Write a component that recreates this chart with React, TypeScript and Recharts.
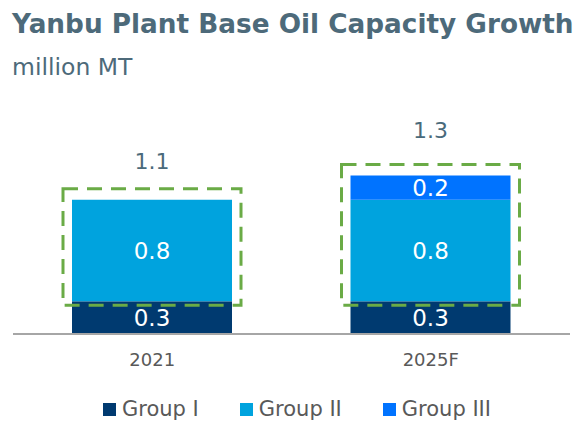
import React from 'react';
import { BarChart, Bar, XAxis, YAxis, LabelList, Legend } from 'recharts';

const categories = ['2021', '2025F'];
const groupI = [0.27, 0.27];
const groupII = [0.84, 0.84];
const groupIII = [0, 0.2];
const seriesNames = ['Group I', 'Group II', 'Group III'];
const seriesKeys = ['g1', 'g2', 'g3'];
const colors = ['#003a70', '#00a3de', '#0073ff'];

const data = categories.map((c, i) => ({
  name: c,
  g1: groupI[i],
  g2: groupII[i],
  g3: groupIII[i],
}));

const FONT = "'DejaVu Sans', Verdana, sans-serif";

const GroupIShape = (props: any) => {
  const { x, y, width, height, payload, fill } = props;
  const total = payload.g1 + payload.g2 + payload.g3;
  const ppu = height / payload.g1;
  const base = y + height;
  const top = base - total * ppu;
  const labelY = base - total * 1.285 * ppu;
  const boxTop = top - 11;
  const boxBottom = y + 4;
  return (
    <g>
      <rect x={x} y={y} width={width} height={height} fill={fill} />
      <rect
        x={x - 9}
        y={boxTop}
        width={width + 18}
        height={boxBottom - boxTop}
        fill="none"
        stroke="#6aab46"
        strokeWidth={3}
        strokeDasharray="15 9"
      />
      <text
        x={x + width / 2}
        y={labelY}
        textAnchor="middle"
        dominantBaseline="central"
        fontSize={22}
        fill="#4a6a7b"
        fontFamily={FONT}
      >
        {total.toFixed(1)}
      </text>
    </g>
  );
};

const fmt = (v: any) => (v ? Number(v).toFixed(1) : '');

const renderLegend = () => (
  <div style={{ display: 'flex', justifyContent: 'flex-start', paddingLeft: 103, gap: 41, fontFamily: FONT, fontSize: 21, color: '#595959' }}>
    {seriesNames.map((n, i) => (
      <div key={n} style={{ display: 'flex', alignItems: 'center' }}>
        <span style={{ display: 'inline-block', width: 13, height: 13, background: colors[i], marginRight: 6 }} />
        <span>{n}</span>
      </div>
    ))}
  </div>
);

export default function App() {
  return (
    <div style={{ position: 'absolute', left: 0, top: 0, width: 577, height: 424, background: '#fff', fontFamily: FONT }}>
      <div style={{ position: 'absolute', left: 12, top: 9, fontSize: 26.3, fontWeight: 'bold', color: '#4d6a7a', whiteSpace: 'nowrap' }}>
        Yanbu Plant Base Oil Capacity Growth
      </div>
      <div style={{ position: 'absolute', left: 12, top: 53, fontSize: 23.5, color: '#4d6a7a', whiteSpace: 'nowrap' }}>
        million MT
      </div>
      <div style={{ position: 'absolute', left: 0, top: 0 }}>
        <BarChart width={577} height={424} data={data} margin={{ top: 92, right: 7, left: 13, bottom: 60 }}>
          <YAxis hide domain={[0, 2]} />
          <XAxis
            dataKey="name"
            axisLine={{ stroke: '#a6a6a6', strokeWidth: 2 }}
            tickLine={false}
            tickMargin={13}
            tick={{ fontSize: 18, fill: '#595959', fontFamily: FONT }}
          />
          <Legend verticalAlign="middle" align="center" content={renderLegend} wrapperStyle={{ top: 397, left: 0, width: 577 }} />
          {seriesKeys.map((k, i) => (
            <Bar
              key={k}
              dataKey={k}
              name={seriesNames[i]}
              stackId="a"
              fill={colors[i]}
              barSize={160}
              isAnimationActive={false}
              shape={i === 0 ? GroupIShape : undefined}
            >
              <LabelList dataKey={k} position="center" fill="#ffffff" fontSize={23} fontFamily={FONT} formatter={fmt} />
            </Bar>
          ))}
        </BarChart>
      </div>
    </div>
  );
}
